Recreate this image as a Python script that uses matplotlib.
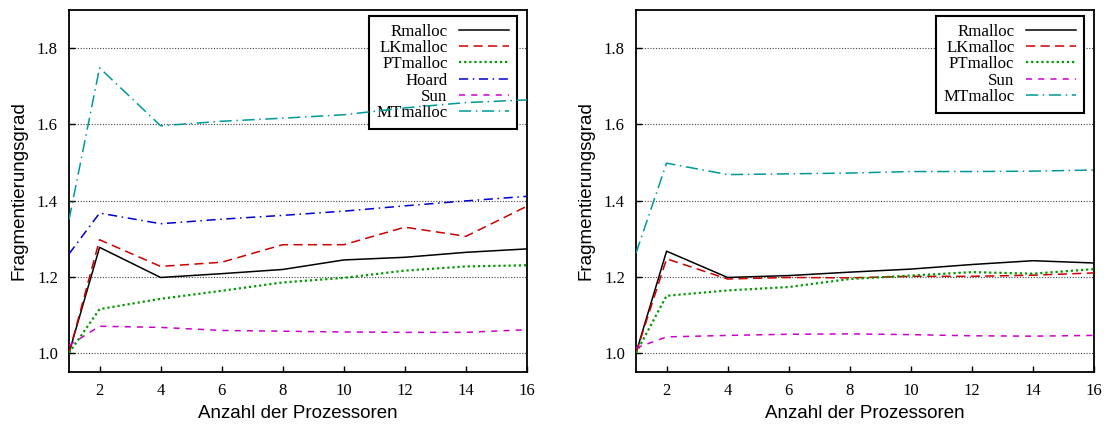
import matplotlib.pyplot as plt

# Anzahl der Prozessoren
procs = [1, 2, 4, 6, 8, 10, 12, 14, 16]

# linkes Diagramm
l_rmalloc = [1.00, 1.277, 1.198, 1.208, 1.219, 1.244, 1.251, 1.264, 1.273]
l_lkmalloc = [1.00, 1.297, 1.227, 1.238, 1.284, 1.284, 1.330, 1.306, 1.385]
l_ptmalloc = [1.00, 1.115, 1.142, 1.163, 1.185, 1.197, 1.216, 1.227, 1.230]
l_hoard = [1.26, 1.367, 1.339, 1.351, 1.361, 1.372, 1.386, 1.399, 1.411]
l_sun = [1.02, 1.070, 1.067, 1.059, 1.057, 1.055, 1.054, 1.054, 1.061]
l_mtmalloc = [1.35, 1.748, 1.596, 1.608, 1.616, 1.625, 1.643, 1.657, 1.664]

# rechtes Diagramm
r_rmalloc = [1.00, 1.267, 1.198, 1.203, 1.212, 1.220, 1.232, 1.242, 1.236]
r_lkmalloc = [1.00, 1.247, 1.194, 1.198, 1.197, 1.201, 1.201, 1.204, 1.210]
r_ptmalloc = [1.00, 1.150, 1.164, 1.173, 1.194, 1.203, 1.212, 1.208, 1.220]
r_sun = [1.013, 1.042, 1.046, 1.049, 1.050, 1.048, 1.045, 1.044, 1.046]
r_mtmalloc = [1.262, 1.498, 1.468, 1.470, 1.472, 1.476, 1.476, 1.477, 1.480]

xticks = [2, 4, 6, 8, 10, 12, 14, 16]
yticks = [1.0, 1.2, 1.4, 1.6, 1.8]

# Stil pro Allokator: (Farbe, Linienstil, Linienbreite)
styles = {
    'Rmalloc': ('black', '-', 1.1),
    'LKmalloc': ('#cc0000', (0, (6, 3.5)), 1.1),
    'PTmalloc': ('#009900', (0, (1, 1.3)), 1.6),
    'Hoard': ('#0000cc', (0, (6, 3, 1, 3)), 1.1),
    'Sun': ('#cc00cc', (0, (4, 4)), 1.1),
    'MTmalloc': ('#009999', (0, (8, 3, 1, 3)), 1.1),
}

serif = ['Liberation Serif', 'DejaVu Serif']
sans = ['Liberation Sans', 'DejaVu Sans']

fig = plt.figure(figsize=(11.1, 4.26), dpi=100)
ax1 = fig.add_axes([0.0622, 0.1268, 0.4126, 0.8498])
ax2 = fig.add_axes([0.5730, 0.1268, 0.4126, 0.8498])

left = [('Rmalloc', l_rmalloc), ('LKmalloc', l_lkmalloc), ('PTmalloc', l_ptmalloc),
        ('Hoard', l_hoard), ('Sun', l_sun), ('MTmalloc', l_mtmalloc)]
right = [('Rmalloc', r_rmalloc), ('LKmalloc', r_lkmalloc), ('PTmalloc', r_ptmalloc),
         ('Sun', r_sun), ('MTmalloc', r_mtmalloc)]

for ax, series in [(ax1, left), (ax2, right)]:
    for name, vals in series:
        c, ls, lw = styles[name]
        ax.plot(procs, vals, color=c, linestyle=ls, linewidth=lw, label=name, zorder=3)
    ax.set_xlim(1, 16)
    ax.set_ylim(0.95, 1.9)
    ax.set_xticks(xticks)
    ax.set_yticks(yticks)
    ax.set_yticklabels(['%.1f' % v for v in yticks], family=serif, fontsize=12)
    ax.set_xticklabels([str(v) for v in xticks], family=serif, fontsize=12)
    ax.tick_params(direction='in', length=4, width=1, pad=8)
    ax.yaxis.grid(True, linestyle=(0, (1, 1.5)), color='#444444', linewidth=0.8)
    ax.set_axisbelow(True)
    for sp in ax.spines.values():
        sp.set_linewidth(1.3)
    ax.set_xlabel('Anzahl der Prozessoren', family=sans, fontsize=13.5, labelpad=4)
    ax.set_ylabel('Fragmentierungsgrad', family=sans, fontsize=13.5, labelpad=7)
    # gnuplot-artige Legende: Text rechtsbuendig, deckt Gitter ab, Kurven laufen darueber
    leg = ax.legend(loc='upper right', bbox_to_anchor=(1 - 10 / 458, 1 - 6 / 362),
                    borderaxespad=0, markerfirst=False,
                    prop={'family': serif, 'size': 12.2},
                    frameon=True, fancybox=False, handlelength=3.0, labelspacing=0.02,
                    borderpad=0.45, handletextpad=0.65)
    leg.get_frame().set_edgecolor('black')
    leg.get_frame().set_facecolor('white')
    leg.get_frame().set_alpha(1)
    leg.get_frame().set_linewidth(1.5)
    leg.set_zorder(2)
    for t in leg.get_texts():
        t.set_horizontalalignment('right')
    leg._legend_box.align = 'right'

fig.savefig('out.png', dpi=100)
